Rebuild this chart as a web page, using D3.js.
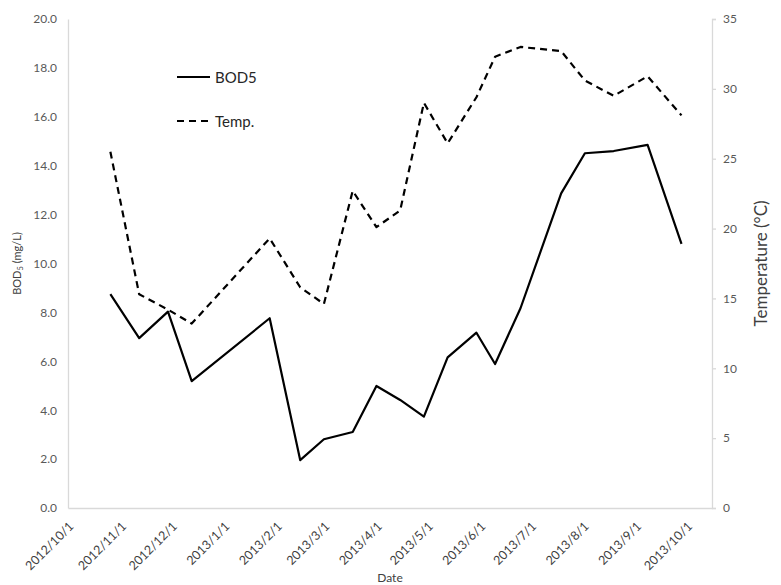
<!DOCTYPE html>
<html>
<head>
<meta charset="utf-8">
<script src="https://cdn.jsdelivr.net/npm/d3@7"></script>
<style>
  body { margin: 0; background: #fff; }
  svg { display: block; }
  text { font-family: Lato, "Open Sans", sans-serif; }
</style>
</head>
<body>
<svg id="chart" width="781" height="585"></svg>
<script>
// Sampling dates (yyyy-mm-dd)
const sampleDates = [
  "2012-10-26", "2012-11-12", "2012-11-29", "2012-12-13", "2013-01-28",
  "2013-02-15", "2013-03-01", "2013-03-18", "2013-04-01", "2013-04-15",
  "2013-04-29", "2013-05-13", "2013-05-30", "2013-06-10", "2013-06-25",
  "2013-07-19", "2013-08-02", "2013-08-19", "2013-09-08", "2013-09-28"
];
// BOD5 (mg/L)
const bod5 = [
  8.75, 6.95, 8.03, 5.19, 7.76,
  1.96, 2.81, 3.11, 4.99, 4.42,
  3.74, 6.16, 7.17, 5.89, 8.17,
  12.87, 14.51, 14.60, 14.85, 10.80
];
// Water temperature (°C)
const temp = [
  25.5, 15.3, 14.2, 13.2, 19.3,
  15.8, 14.6, 22.7, 20.1, 21.3,
  29.0, 26.1, 29.4, 32.3, 33.0,
  32.7, 30.6, 29.5, 30.9, 28.1
];
// Date-axis tick labels (first day of each month)
const monthTicks = [
  "2012/10/1", "2012/11/1", "2012/12/1", "2013/1/1", "2013/2/1", "2013/3/1",
  "2013/4/1", "2013/5/1", "2013/6/1", "2013/7/1", "2013/8/1", "2013/9/1", "2013/10/1"
];
const bodTicks = [0, 2, 4, 6, 8, 10, 12, 14, 16, 18, 20];
const tempTicks = [0, 5, 10, 15, 20, 25, 30, 35];
const axisStart = "2012/10/1";
const axisEnd = "2013/10/16";

const parseDash = d3.timeParse("%Y-%m-%d");
const parseSlash = d3.timeParse("%Y/%m/%d");

const margin = { left: 68, right: 69, top: 19, bottom: 77 };
const W = 781, H = 585;
const svg = d3.select("#chart");

const x = d3.scaleTime()
  .domain([parseSlash(axisStart), parseSlash(axisEnd)])
  .range([margin.left, W - margin.right]);
const yL = d3.scaleLinear().domain([0, 20]).range([H - margin.bottom, margin.top]);
const yR = d3.scaleLinear().domain([0, 35]).range([H - margin.bottom, margin.top]);

const axisColor = "#d9d9d9";
const labelColor = "#595959";

// Left axis (no tick marks)
const gL = svg.append("g")
  .attr("transform", `translate(${margin.left},0)`)
  .call(d3.axisLeft(yL).tickValues(bodTicks).tickFormat(d3.format(".1f")).tickSize(0).tickPadding(11));
gL.select(".domain").attr("stroke", axisColor).attr("stroke-width", 1.3);
gL.selectAll("text").attr("fill", labelColor).attr("font-size", 12).style("font-family", "Lato, sans-serif");

// Right axis (short outward ticks)
const gR = svg.append("g")
  .attr("transform", `translate(${W - margin.right},0)`)
  .call(d3.axisRight(yR).tickValues(tempTicks).tickSizeInner(4).tickSizeOuter(4).tickPadding(7));
gR.select(".domain").attr("stroke", axisColor).attr("stroke-width", 1.3);
gR.selectAll("line").attr("stroke", axisColor).attr("stroke-width", 1.3);
gR.selectAll("text").attr("fill", labelColor).attr("font-size", 12).style("font-family", "Lato, sans-serif");

// Bottom date axis with rotated labels
const gB = svg.append("g")
  .attr("transform", `translate(0,${H - margin.bottom})`)
  .call(d3.axisBottom(x).tickValues(monthTicks.map(parseSlash)).tickSize(0).tickFormat((d, i) => monthTicks[i]));
gB.select(".domain").attr("stroke", axisColor).attr("stroke-width", 1.3);
gB.selectAll(".tick text")
  .attr("fill", "#404040")
  .attr("font-size", 12.5)
  .style("font-family", "Lato, sans-serif")
  .attr("text-anchor", "end")
  .attr("dy", null)
  .attr("y", 0)
  .attr("transform", "translate(6,19) rotate(-45)");

// Series lines
const pts = sampleDates.map((d, i) => ({ date: parseDash(d), bod: bod5[i], t: temp[i] }));
const bodLine = d3.line().x(d => x(d.date)).y(d => yL(d.bod));
const tempLine = d3.line().x(d => x(d.date)).y(d => yR(d.t));

svg.append("path").datum(pts)
  .attr("d", tempLine)
  .attr("fill", "none").attr("stroke", "#000").attr("stroke-width", 2.2)
  .attr("stroke-dasharray", "7,5").attr("stroke-linejoin", "round");

svg.append("path").datum(pts)
  .attr("d", bodLine)
  .attr("fill", "none").attr("stroke", "#000").attr("stroke-width", 2.2)
  .attr("stroke-linejoin", "round");

// Legend
const legend = svg.append("g").attr("transform", "translate(177,0)");
const legendItems = [
  { label: "BOD5", dash: null, y: 77 },
  { label: "Temp.", dash: "7,5", y: 121 }
];
legendItems.forEach(item => {
  legend.append("line")
    .attr("x1", 0).attr("x2", 33).attr("y1", item.y).attr("y2", item.y)
    .attr("stroke", "#000").attr("stroke-width", 2.2)
    .attr("stroke-dasharray", item.dash);
  legend.append("text")
    .attr("x", 38).attr("y", item.y + 5.5)
    .attr("font-size", 15).attr("fill", "#262626")
    .text(item.label);
});

// Axis titles
const leftTitle = svg.append("text")
  .attr("transform", `translate(21,${(margin.top + H - margin.bottom) / 2}) rotate(-90)`)
  .attr("text-anchor", "middle").attr("font-size", 11).attr("fill", "#404040");
leftTitle.append("tspan").text("BOD");
leftTitle.append("tspan").attr("font-size", 7.5).attr("dy", 2).text("5");
leftTitle.append("tspan").attr("dy", -2).text(" (mg/L)");

svg.append("text")
  .attr("transform", `translate(767,${(margin.top + H - margin.bottom) / 2}) rotate(-90)`)
  .attr("text-anchor", "middle").attr("font-size", 17).attr("fill", "#404040")
  .text("Temperature (°C)");

svg.append("text")
  .attr("x", (margin.left + W - margin.right) / 2).attr("y", 582)
  .attr("text-anchor", "middle").attr("font-size", 12).attr("fill", "#404040")
  .text("Date");
</script>
</body>
</html>
